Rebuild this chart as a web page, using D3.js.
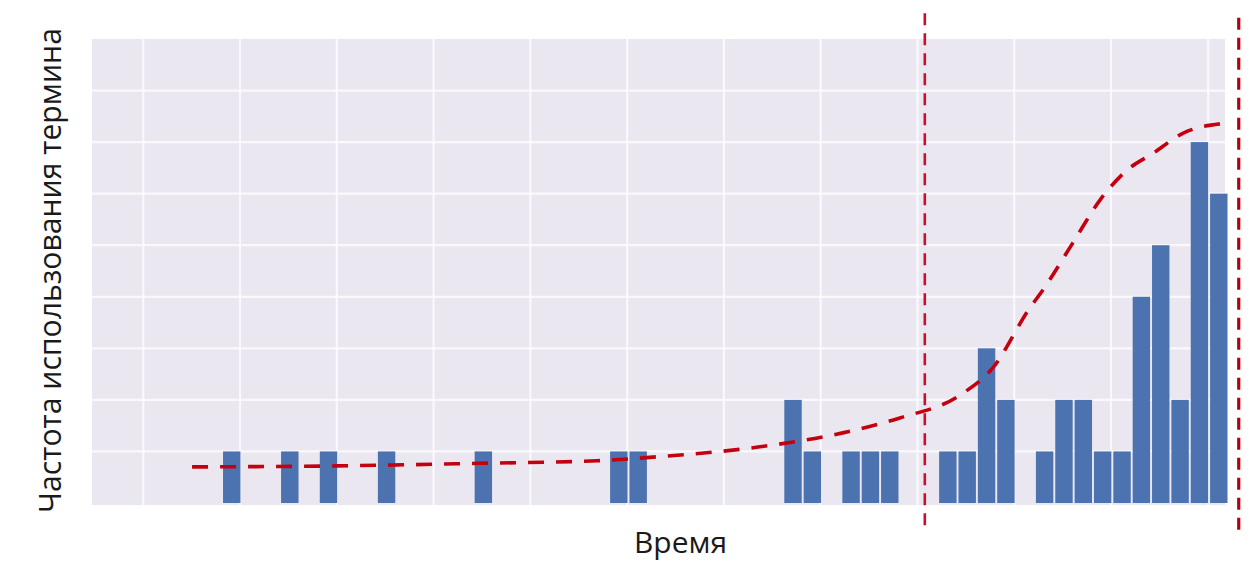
<!DOCTYPE html>
<html>
<head>
<meta charset="utf-8">
<script src="https://cdn.jsdelivr.net/npm/d3@7"></script>
<style>
  html, body { margin: 0; padding: 0; background: #ffffff; }
  svg { display: block; }
</style>
</head>
<body>
<svg id="chart" width="1253" height="562"></svg>
<script>
// ---- data ----
const bins   = [0, 3, 5, 8, 13, 20, 21, 29, 30, 32, 33, 34, 37, 38, 39, 40, 42, 43, 44, 45, 46, 47, 48, 49, 50, 51];
const counts = [1, 1, 1, 1, 1, 1, 1, 2, 1, 1, 1, 1, 1, 1, 3, 2, 1, 2, 2, 1, 1, 4, 5, 2, 7, 6];

const trendX = [-1.60, 5.89, 13.27, 19.32, 22.21, 27.74, 32.02, 34.97, 38.07, 39.77, 41.68, 42.36, 43.90, 45.30, 46.69, 48.04, 49.59, 51.65];
const trendY = [0.70, 0.72, 0.77, 0.82, 0.89, 1.09, 1.36, 1.65, 2.09, 2.62, 3.78, 4.13, 5.04, 5.87, 6.45, 6.78, 7.17, 7.36];

const markerX  = [36.26, 52.48];
const markerY0 = [-0.52, -0.66];
const markerY1 = [9.50, 9.41];

const xGridTicks = [-4.12, 0.88, 5.88, 10.88, 15.88, 20.88, 25.88, 30.88, 35.88, 40.88, 45.88, 50.9];
const yGridTicks = [1, 2, 3, 4, 5, 6, 7, 8];

const xLabel = "Время";
const yLabel = "Частота использования термина";

// ---- scales ----
const svg = d3.select("#chart");
const x = d3.scaleLinear().domain([-6.77, 51.77]).range([92, 1225]);
const y = d3.scaleLinear().domain([0, 9]).range([503, 39]);
const barW = 0.9;

// background
svg.append("rect")
  .attr("x", x(-6.77)).attr("y", y(9))
  .attr("width", x(51.77) - x(-6.77))
  .attr("height", y(-0.04) - y(9))
  .attr("fill", "#ebe7f1");

// gridlines
svg.append("g").selectAll("line").data(yGridTicks).join("line")
  .attr("x1", x(-6.77)).attr("x2", x(51.77))
  .attr("y1", d => y(d)).attr("y2", d => y(d))
  .attr("stroke", "#ffffff").attr("stroke-opacity", 0.7).attr("stroke-width", 2.2);
svg.append("g").selectAll("line").data(xGridTicks).join("line")
  .attr("x1", d => x(d)).attr("x2", d => x(d))
  .attr("y1", y(9)).attr("y2", y(-0.04))
  .attr("stroke", "#ffffff").attr("stroke-opacity", 0.7).attr("stroke-width", 2.2);

// bars
const barData = bins.map((b, i) => ({ b, c: counts[i] }));
svg.append("g").selectAll("rect").data(barData).join("rect")
  .attr("x", d => x(d.b))
  .attr("width", x(d3.min(bins) + barW) - x(d3.min(bins)))
  .attr("y", d => y(d.c))
  .attr("height", d => y(0) - y(d.c))
  .attr("fill", "#4c72b0");

// trend curve
const trend = trendX.map((v, i) => [v, trendY[i]]);
svg.append("path")
  .datum(trend)
  .attr("d", d3.line().x(d => x(d[0])).y(d => y(d[1])).curve(d3.curveMonotoneX))
  .attr("fill", "none")
  .attr("stroke", "#c4000f")
  .attr("stroke-width", 3.6)
  .attr("stroke-dasharray", "16 12");

// vertical markers
svg.append("g").selectAll("line").data(markerX).join("line")
  .attr("x1", d => x(d)).attr("x2", d => x(d))
  .attr("y1", (d, i) => y(markerY1[i]))
  .attr("y2", (d, i) => y(markerY0[i]))
  .attr("stroke", (d, i) => i === 0 ? "#c8102e" : "#b5000c")
  .attr("stroke-width", (d, i) => i === 0 ? 2.6 : 3.2)
  .attr("stroke-dasharray", "12 8");

// labels
function fitText(sel, target) {
  const w = sel.node().getComputedTextLength();
  const fs = parseFloat(sel.attr("font-size"));
  sel.attr("font-size", fs * target / w);
}
const xl = svg.append("text")
  .attr("x", 680.5).attr("y", 553)
  .attr("text-anchor", "middle")
  .attr("font-family", "'Open Sans', 'DejaVu Sans', sans-serif")
  .attr("font-size", 28)
  .attr("fill", "#1a1a1a")
  .text(xLabel);
fitText(xl, 93);

const yl = svg.append("text")
  .attr("transform", "translate(61,270.5) rotate(-90)")
  .attr("text-anchor", "middle")
  .attr("font-family", "'Open Sans', 'DejaVu Sans', sans-serif")
  .attr("font-size", 28)
  .attr("fill", "#1a1a1a")
  .text(yLabel);
fitText(yl, 485);
</script>
</body>
</html>
